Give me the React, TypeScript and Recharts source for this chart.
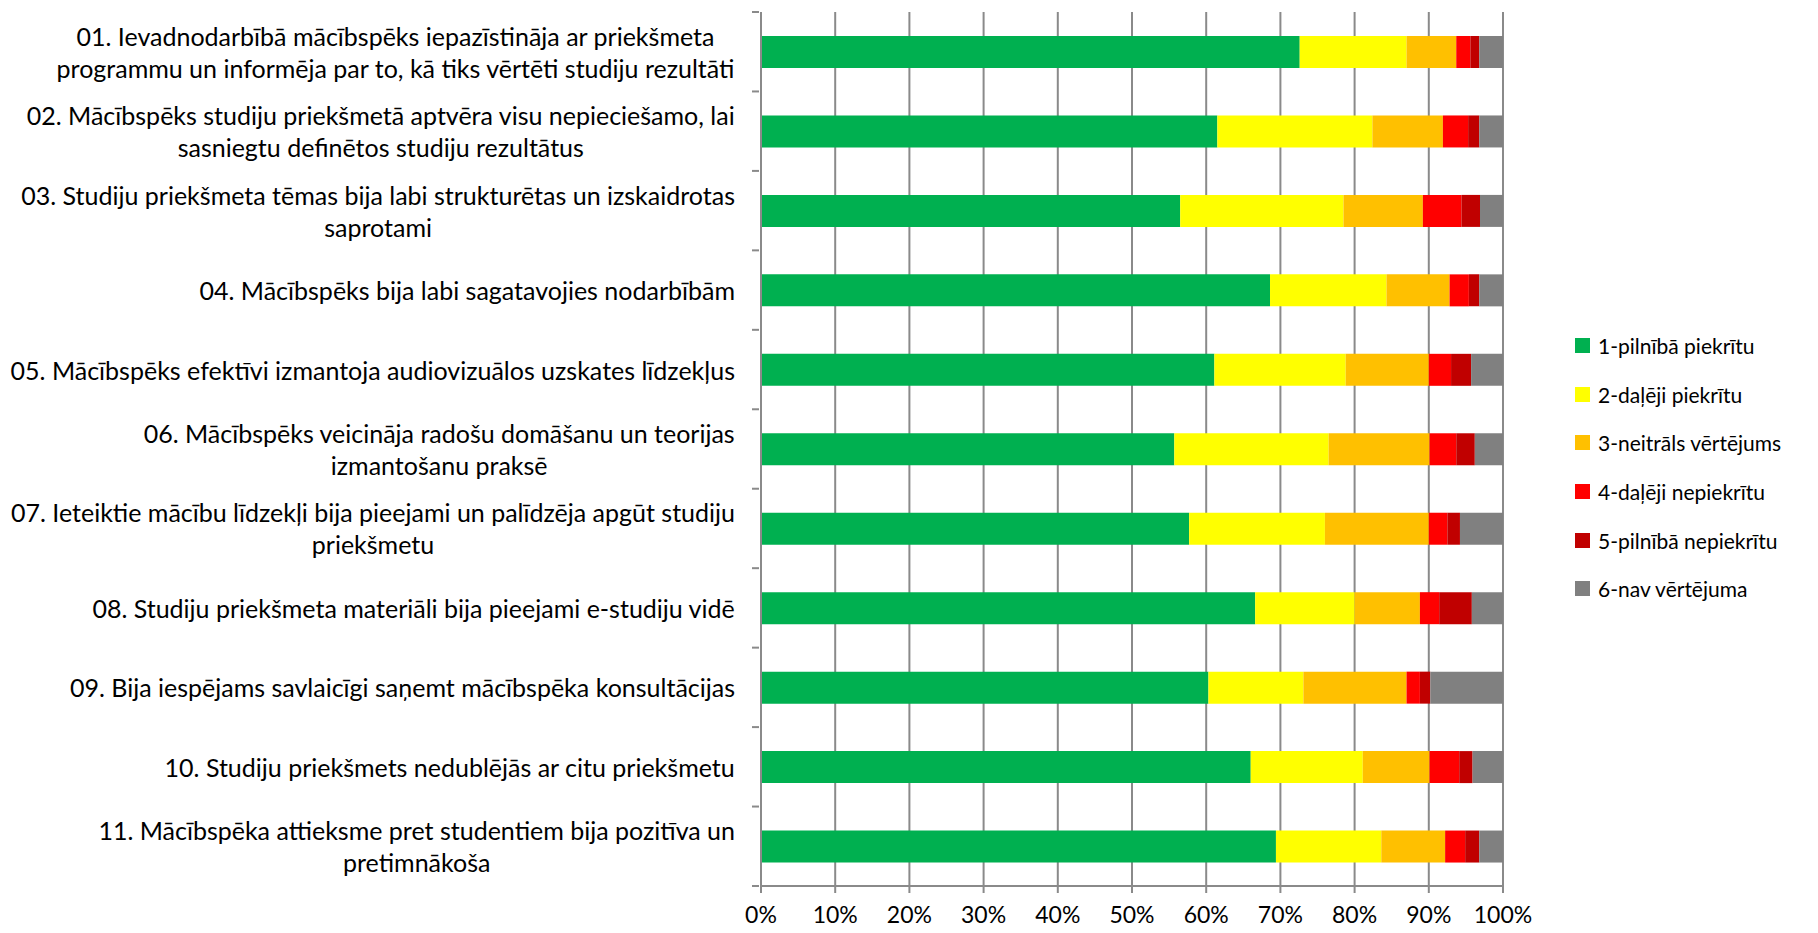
import { BarChart, Bar, XAxis, YAxis, CartesianGrid } from "recharts"

const categories = ["01", "02", "03", "04", "05", "06", "07", "08", "09", "10", "11"]

const labelLines: string[][] = [
  ["01. Ievadnodarbībā mācībspēks iepazīstināja ar priekšmeta", "programmu un informēja par to, kā tiks vērtēti studiju rezultāti"],
  ["02. Mācībspēks studiju priekšmetā aptvēra visu nepieciešamo, lai", "sasniegtu definētos studiju rezultātus"],
  ["03. Studiju priekšmeta tēmas bija labi strukturētas un izskaidrotas", "saprotami"],
  ["04. Mācībspēks bija labi sagatavojies nodarbībām"],
  ["05. Mācībspēks efektīvi izmantoja audiovizuālos uzskates līdzekļus"],
  ["06. Mācībspēks veicināja radošu domāšanu un teorijas", "izmantošanu praksē"],
  ["07. Ieteiktie mācību līdzekļi bija pieejami un palīdzēja apgūt studiju", "priekšmetu"],
  ["08. Studiju priekšmeta materiāli bija pieejami e-studiju vidē"],
  ["09. Bija iespējams savlaicīgi saņemt mācībspēka konsultācijas"],
  ["10. Studiju priekšmets nedublējās ar citu priekšmetu"],
  ["11. Mācībspēka attieksme pret studentiem bija pozitīva un", "pretimnākoša"],
]

// percentages per answer option
const fullyAgree = [72.6, 61.5, 56.5, 68.6, 61.1, 55.7, 57.7, 66.6, 60.3, 66.0, 69.4]
const partlyAgree = [14.4, 20.9, 22.0, 15.7, 17.7, 20.8, 18.3, 13.4, 12.8, 15.1, 14.2]
const neutral = [6.7, 9.5, 10.7, 8.5, 11.2, 13.6, 14.0, 8.8, 13.9, 9.0, 8.6]
const partlyDisagree = [1.9, 3.4, 5.2, 2.6, 3.0, 3.6, 2.5, 2.6, 1.8, 4.0, 2.7]
const fullyDisagree = [1.2, 1.5, 2.5, 1.4, 2.7, 2.5, 1.7, 4.4, 1.4, 1.8, 1.9]
const noRating = [3.2, 3.2, 3.1, 3.2, 4.3, 3.8, 5.8, 4.2, 9.8, 4.1, 3.2]

const xTicks = [0, 0.1, 0.2, 0.3, 0.4, 0.5, 0.6, 0.7, 0.8, 0.9, 1]

const series = [
  { key: "s1", name: "1-pilnībā piekrītu", color: "#00B050", values: fullyAgree },
  { key: "s2", name: "2-daļēji piekrītu", color: "#FFFF00", values: partlyAgree },
  { key: "s3", name: "3-neitrāls vērtējums", color: "#FFC000", values: neutral },
  { key: "s4", name: "4-daļēji nepiekrītu", color: "#FF0000", values: partlyDisagree },
  { key: "s5", name: "5-pilnībā nepiekrītu", color: "#C00000", values: fullyDisagree },
  { key: "s6", name: "6-nav vērtējuma", color: "#808080", values: noRating },
]

const data = categories.map((id, i) => {
  const row: Record<string, string | number> = { id }
  series.forEach((s) => {
    row[s.key] = s.values[i]
  })
  return row
})

const FONT = "Lato"
const FS = 25
const GRID = "#8a8a8a"
const TOP = 12
const PLOT_H = 874
const BAND = PLOT_H / categories.length

let ctx: CanvasRenderingContext2D | null = null
function textWidth(t: string) {
  if (!ctx) ctx = document.createElement("canvas").getContext("2d")
  if (!ctx) return t.length * FS * 0.5
  ctx.font = `${FS}px ${FONT}`
  return ctx.measureText(t).width
}

const YTick = (props: any) => {
  const { x, y, payload, index } = props
  const i = categories.indexOf(payload.value)
  const lines = labelLines[i] || []
  const block = Math.max(...lines.map(textWidth))
  const right = x - 18
  const cx = right - block / 2
  const lh = 32
  const start = y - ((lines.length - 1) * lh) / 2
  const axisX = x + 6
  return (
    <g>
      {lines.map((l, k) => (
        <text
          key={k}
          x={cx}
          y={start + k * lh}
          textAnchor="middle"
          dominantBaseline="central"
          fontFamily={FONT}
          fontSize={FS}
          fill="#000"
        >
          {l}
        </text>
      ))}
      <line x1={axisX - 7} x2={axisX} y1={y - BAND / 2} y2={y - BAND / 2} stroke={GRID} strokeWidth={2} />
      {index === categories.length - 1 && (
        <line x1={axisX - 7} x2={axisX} y1={y + BAND / 2} y2={y + BAND / 2} stroke={GRID} strokeWidth={2} />
      )}
    </g>
  )
}

const ChartLegend = () => (
  <div
    style={{
      position: "absolute",
      left: 1575,
      top: 321,
      fontFamily: FONT,
      fontSize: 21,
      color: "#000",
    }}
  >
    {series.map((s) => (
      <div key={s.key} style={{ display: "flex", alignItems: "center", height: 48.7, whiteSpace: "nowrap" }}>
        <span style={{ width: 15, height: 15, background: s.color, marginRight: 8, display: "inline-block" }} />
        <span>{s.name}</span>
      </div>
    ))}
  </div>
)

export default function App() {
  return (
    <div style={{ position: "absolute", left: 0, top: 0, width: 1818, height: 933, background: "#fff" }}>
      <BarChart
        width={1818}
        height={933}
        data={data}
        layout="vertical"
        stackOffset="expand"
        barSize={32}
        margin={{ top: TOP, right: 315, bottom: 0, left: 0 }}
      >
        <CartesianGrid horizontal={false} vertical stroke={GRID} strokeWidth={2} />
        <XAxis
          type="number"
          domain={[0, 1]}
          ticks={xTicks}
          tickFormatter={(v) => `${Math.round(v * 100)}%`}
          height={47}
          axisLine={{ stroke: GRID, strokeWidth: 2 }}
          tickLine={{ stroke: GRID, strokeWidth: 2 }}
          tickSize={7}
          tick={{ fontFamily: FONT, fontSize: 23, fill: "#000" }}
          tickMargin={14}
        />
        <YAxis
          type="category"
          dataKey="id"
          width={761}
          axisLine={{ stroke: GRID, strokeWidth: 2 }}
          tickLine={false}
          tick={<YTick />}
          interval={0}
        />
        {series.map((s) => (
          <Bar key={s.key} dataKey={s.key} name={s.name} stackId="a" fill={s.color} isAnimationActive={false} />
        ))}
      </BarChart>
      <ChartLegend />
    </div>
  )
}
